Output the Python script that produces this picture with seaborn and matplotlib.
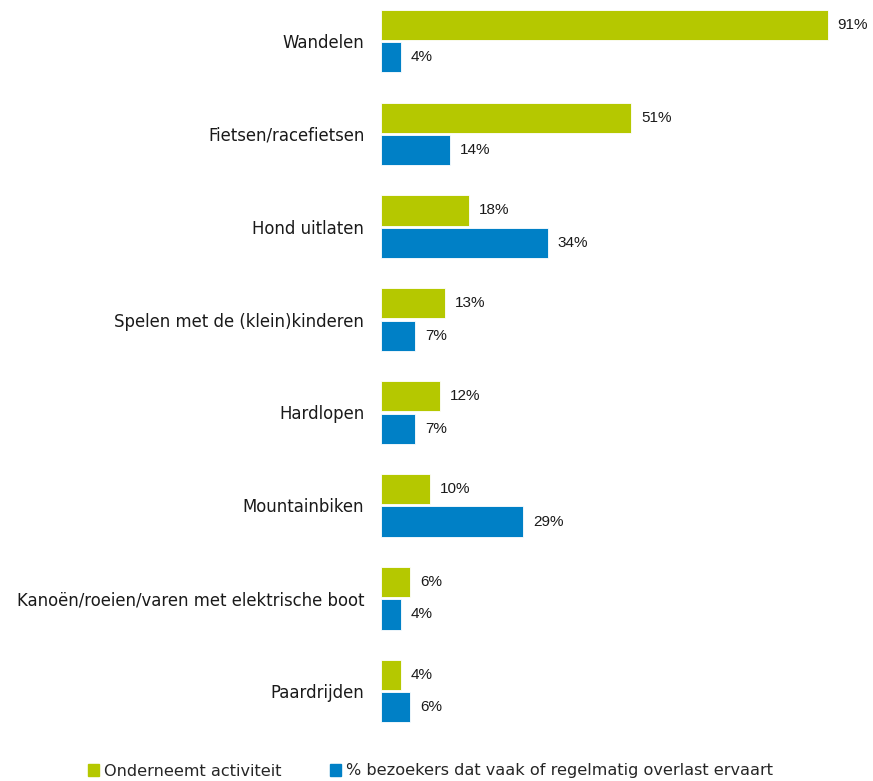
import numpy as np
import pandas as pd
import matplotlib
matplotlib.use('Agg')
import matplotlib.pyplot as plt
import seaborn as sns

categories = ['Wandelen', 'Fietsen/racefietsen', 'Hond uitlaten',
              'Spelen met de (klein)kinderen', 'Hardlopen', 'Mountainbiken',
              'Kanoën/roeien/varen met elektrische boot', 'Paardrijden']
activiteit = [91, 51, 18, 13, 12, 10, 6, 4]
overlast = [4, 14, 34, 7, 7, 29, 4, 6]
series = ['Onderneemt activiteit', '% bezoekers dat vaak of regelmatig overlast ervaart']
colors = ['#b5c800', '#0080c6']

df = pd.DataFrame({'cat': categories, series[0]: activiteit, series[1]: overlast})
long = df.melt(id_vars='cat', var_name='serie', value_name='pct')

sns.set_style('white')
plt.rcParams['font.family'] = ['DejaVu Sans']

fig = plt.figure(figsize=(8.73, 7.81), dpi=100)
ax = fig.add_axes([381/873, 1-740/781, 491/873, 740/781])

sns.barplot(data=long, y='cat', x='pct', hue='serie', order=categories,
            hue_order=series, palette=colors, saturation=1, orient='h',
            width=0.7, gap=0.07, edgecolor='white', linewidth=0.6, ax=ax,
            legend=False)

for cont in ax.containers:
    ax.bar_label(cont, fmt='%d%%', padding=7, fontsize=11,
                 family='Liberation Sans', fontstretch='normal', color='#1a1a1a')

ax.set_xlim(0, 100)
ax.set_ylim(7.527, -0.4415)
ax.set_xlabel('')
ax.set_ylabel('')
ax.set_xticks([])
ax.tick_params(axis='y', length=0, pad=12, labelsize=11.9, labelcolor='#1a1a1a')
for s in ax.spines.values():
    s.set_visible(False)

handles = [plt.Rectangle((0, 0), 1, 1, color=c) for c in colors]
fig.legend(handles, series, loc='center left', bbox_to_anchor=(88/873, 1-771/781),
           ncol=2, frameon=False, handlelength=0.7, handleheight=0.7,
           handletextpad=0.3, columnspacing=3.0, fontsize=11.6, borderaxespad=0,
           borderpad=0)

fig.savefig('out.png', dpi=100)
